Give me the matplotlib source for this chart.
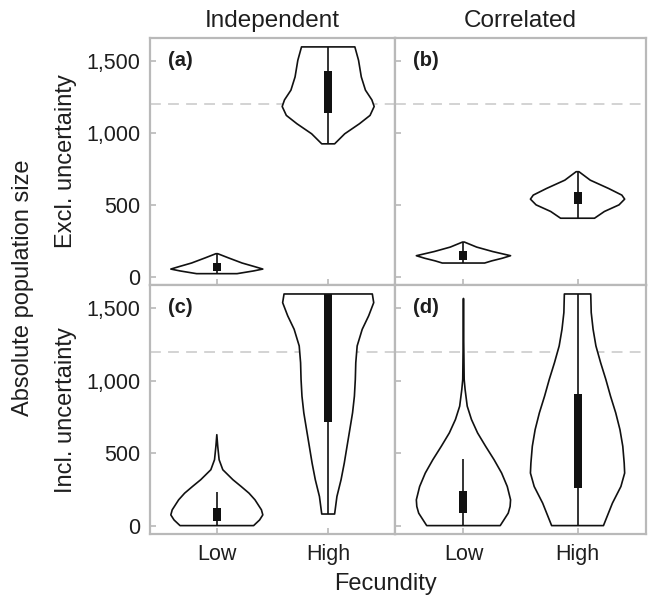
import matplotlib
matplotlib.use("Agg")
import matplotlib.pyplot as plt
from matplotlib.ticker import FuncFormatter

plt.rcParams['font.family'] = ['Liberation Sans', 'DejaVu Sans']

# ---------------- data ----------------
categories = ["Low", "High"]
columns = ["Independent", "Correlated"]
rows = ["Excl. uncertainty", "Incl. uncertainty"]
panel_tags = ["(a)", "(b)", "(c)", "(d)"]
threshold = 1200
yticks = [0, 500, 1000, 1500]

# violin profiles: y values and relative half widths
a_low_y = [160, 130, 95, 72, 53, 40, 21]
a_low_w = [0.02, 0.26, 0.55, 0.8, 1.0, 0.8, 0.44]
a_high_y = [1600, 1507, 1391, 1299, 1231, 1185, 1123, 1065, 995, 925]
a_high_w = [0.58, 0.66, 0.72, 0.81, 0.95, 1.0, 0.91, 0.68, 0.36, 0.14]

b_low_y = [241, 206, 175, 146, 128, 110, 95]
b_low_w = [0.02, 0.28, 0.62, 1.0, 0.82, 0.6, 0.45]
b_high_y = [731, 672, 614, 568, 540, 500, 454, 407]
b_high_w = [0.03, 0.27, 0.66, 0.94, 1.0, 0.88, 0.57, 0.36]

c_low_y = [628, 548, 455, 386, 317, 270, 224, 178, 109, 74, 39, 0]
c_low_w = [0.0, 0.02, 0.05, 0.13, 0.35, 0.53, 0.7, 0.83, 0.97, 1.0, 0.93, 0.8]
c_high_y = [1600, 1540, 1449, 1356, 1241, 1125, 1010, 894, 779, 663, 548, 432, 317, 201, 80]
c_high_w = [0.96, 0.99, 0.88, 0.74, 0.63, 0.6, 0.59, 0.57, 0.53, 0.47, 0.41, 0.35, 0.28, 0.19, 0.14]

d_low_y = [1569, 1300, 1010, 940, 825, 733, 640, 548, 455, 363, 270, 178, 132, 86, 0]
d_low_w = [0.0, 0.005, 0.015, 0.035, 0.08, 0.17, 0.3, 0.47, 0.65, 0.81, 0.93, 1.0, 0.99, 0.95, 0.78]
d_high_y = [1600, 1472, 1356, 1241, 1125, 1010, 894, 779, 663, 548, 432, 363, 270, 155, 0]
d_high_w = [0.28, 0.29, 0.33, 0.39, 0.49, 0.6, 0.7, 0.81, 0.9, 0.96, 0.99, 1.0, 0.92, 0.74, 0.55]

# box stats: [whisker low, q1, q3, whisker high]
a_low_box = [21, 37, 95, 160]
a_high_box = [925, 1137, 1433, 1600]
b_low_box = [95, 118, 176, 241]
b_high_box = [407, 507, 592, 731]
c_low_box = [0, 35, 120, 233]
c_high_box = [80, 714, 1600, 1600]
d_low_box = [0, 86, 240, 462]
d_high_box = [0, 259, 910, 1600]

panels = [
    [(a_low_y, a_low_w, a_low_box), (a_high_y, a_high_w, a_high_box)],
    [(b_low_y, b_low_w, b_low_box), (b_high_y, b_high_w, b_high_box)],
    [(c_low_y, c_low_w, c_low_box), (c_high_y, c_high_w, c_high_box)],
    [(d_low_y, d_low_w, d_low_box), (d_high_y, d_high_w, d_high_box)],
]

# ---------------- figure ----------------
W, H = 649, 598
fig = plt.figure(figsize=(W / 100, H / 100), dpi=100)

col_x = [(150, 245), (395, 251)]
row_y = [(285, 247), (534, 249)]

grey = '#b9b9b9'
txt = '#1e1e1e'
half = 0.413

for i in range(4):
    r, c = divmod(i, 2)
    x0, w = col_x[c]
    yb, h = row_y[r]
    ax = fig.add_axes([x0 / W, 1 - yb / H, w / W, h / H])
    ax.set_xlim(0.4, 2.6)
    ax.set_ylim(-58, 1662)
    ax.axhline(threshold, color='#d0d0d0', lw=1.3, dashes=(6, 4), zorder=0)
    for k, (vy, vw, box) in enumerate(panels[i]):
        xc = k + 1
        xs = [xc - half * v for v in vw] + [xc + half * v for v in vw[::-1]]
        ys = list(vy) + list(vy[::-1])
        ax.fill(xs, ys, facecolor='white', edgecolor='#111111', lw=1.2,
                joinstyle='round', zorder=2)
        ax.vlines(xc, box[0], box[3], color='#111111', lw=1.2, zorder=3)
        ax.bar(xc, box[2] - box[1], bottom=box[1], width=0.07,
               color='#111111', zorder=4)
    for s in ax.spines.values():
        s.set_color(grey)
        s.set_linewidth(1.6)
    ax.set_yticks(yticks)
    ax.set_xticks([1, 2])
    ax.tick_params(direction='in', length=4, width=1.2, color=grey,
                   labelsize=15.5, labelcolor=txt, pad=7)
    if c == 0:
        ax.yaxis.set_major_formatter(FuncFormatter(lambda v, p: f"{int(v):,}"))
    else:
        ax.set_yticklabels([])
    if r == 1:
        ax.set_xticklabels(categories)
    else:
        ax.set_xticklabels([])
    ax.text(0.072, 0.91, panel_tags[i], transform=ax.transAxes,
            fontweight='bold', fontsize=14.5, ha='left', va='center', color=txt)

fig.text(272 / W, 1 - 21 / H, columns[0], ha='center', va='center', fontsize=17.5, color=txt)
fig.text(520 / W, 1 - 21 / H, columns[1], ha='center', va='center', fontsize=17.5, color=txt)
fig.text(385 / W, 1 - 584 / H, "Fecundity", ha='center', va='center', fontsize=17, color=txt)
fig.text(23 / W, 1 - 288 / H, "Absolute population size", rotation=90,
         ha='center', va='center', fontsize=17, color=txt)
fig.text(66 / W, 1 - 161 / H, rows[0], rotation=90, ha='center', va='center',
         fontsize=17, color=txt)
fig.text(66 / W, 1 - 410 / H, rows[1], rotation=90, ha='center', va='center',
         fontsize=17, color=txt)

fig.savefig("out.png", dpi=100)
